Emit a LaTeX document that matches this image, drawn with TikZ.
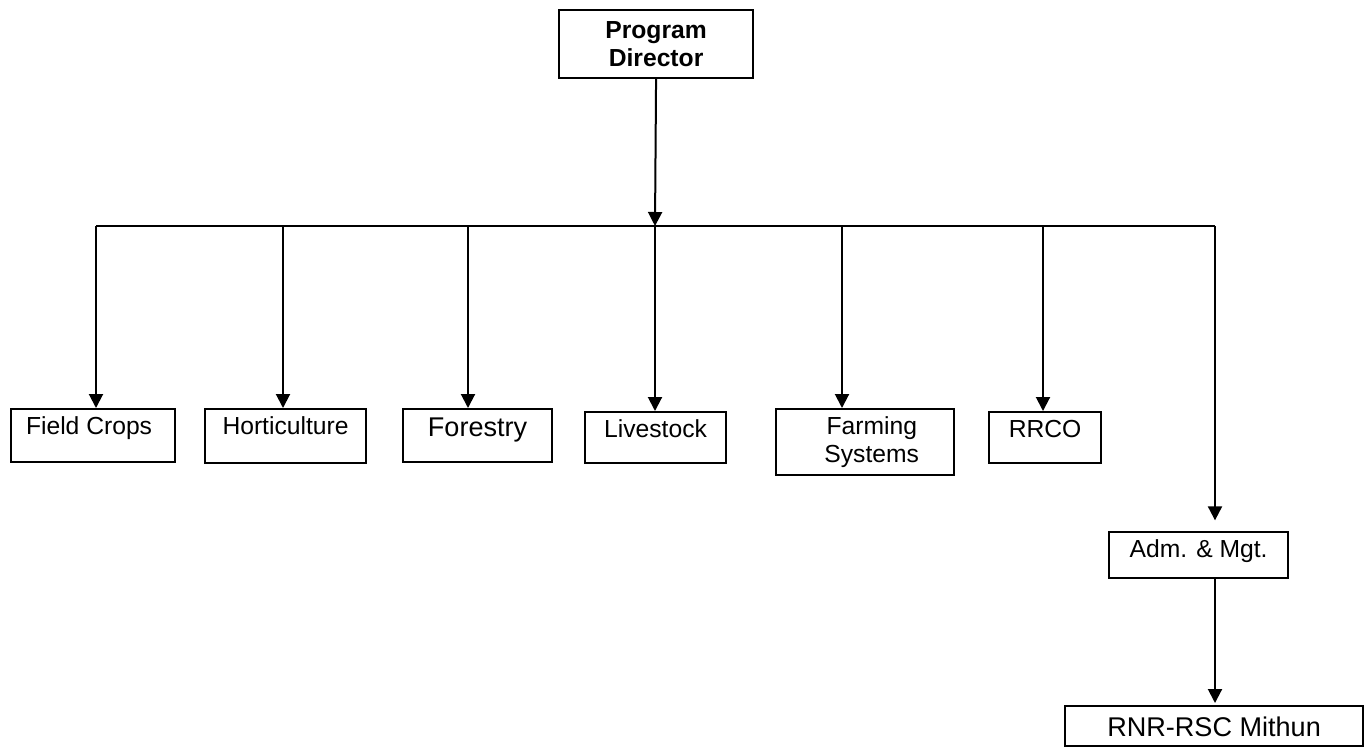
\documentclass[tikz,border=0pt]{standalone}
\usepackage{fontspec}
\setmainfont{Liberation Sans}
\usetikzlibrary{arrows.meta}
\tikzset{
  box/.style={draw, line width=1.6pt, inner sep=0pt, anchor=north west,
    font=\fontsize{18.5}{21}\selectfont},
  bigtext/.style={font=\fontsize{20.3}{24}\selectfont},
  conn/.style={line width=1.5pt},
  arr/.style={line width=1.5pt, -{Triangle[length=10.5pt,width=10.5pt]}},
}
\begin{document}
\begin{tikzpicture}[x=0.75pt,y=-0.75pt]
\useasboundingbox (0,0) rectangle (1370,747);
% top
\node[box, align=center, minimum width=145.5pt, minimum height=51pt,
  font=\fontsize{18.5}{21}\selectfont\bfseries] (pd) at (558,9) {Program\\Director};
% second level
\node[box, minimum width=123pt, text height=18.75pt, text depth=21pt] (fc) at (10,408) {\hspace*{-6pt}Field Crops};
\node[box, minimum width=120.75pt, text height=18.75pt, text depth=21.75pt] (hort) at (204,408) {Horticulture};
\node[box, bigtext, minimum width=111.75pt, text height=20.25pt, text depth=19.5pt] (for) at (402,408) {Forestry};
\node[box, minimum width=105.75pt, text height=19.1pt, text depth=19.1pt] (live) at (584,411) {Livestock};
\node[box, align=center, minimum width=133.5pt, minimum height=49.5pt,
  font=\fontsize{18.5}{21.5}\selectfont] (farm) at (775,408) {\hspace*{10pt}Farming\\\hspace*{10pt}Systems};
\node[box, minimum width=84pt, text height=19.1pt, text depth=19.1pt] (rrco) at (988,411) {RRCO};
\node[box, minimum width=134.25pt, text height=19.3pt, text depth=15.2pt] (adm) at (1108,531) {Adm. \& Mgt.};
\node[box, bigtext, minimum width=223.5pt, text height=22.5pt, text depth=7.5pt] (rnr) at (1064,705) {RNR-RSC Mithun};
% bar coordinates
\coordinate (bar) at (655,226);
\coordinate (barL) at (96,226);
\coordinate (barH) at (283,226);
\coordinate (barF) at (468,226);
\coordinate (barS) at (842,226);
\coordinate (barC) at (1043,226);
\coordinate (barR) at (1215,226);
% connectors
\draw[arr] (pd.south) -- (bar);
\draw[conn] (barL) -- (barR);
\draw[arr] (barL) -- (fc.north -| barL);
\draw[arr] (barH) -- (hort.north -| barH);
\draw[arr] (barF) -- (for.north -| barF);
\draw[arr] (bar) -- (live.north -| bar);
\draw[arr] (barS) -- (farm.north -| barS);
\draw[arr] (barC) -- (rrco.north -| barC);
\draw[arr, shorten >=8pt] (barR) -- (adm.north -| barR);
\draw[arr, shorten >=1.5pt] (adm.south -| barR) -- (rnr.north -| barR);
\end{tikzpicture}
\end{document}
